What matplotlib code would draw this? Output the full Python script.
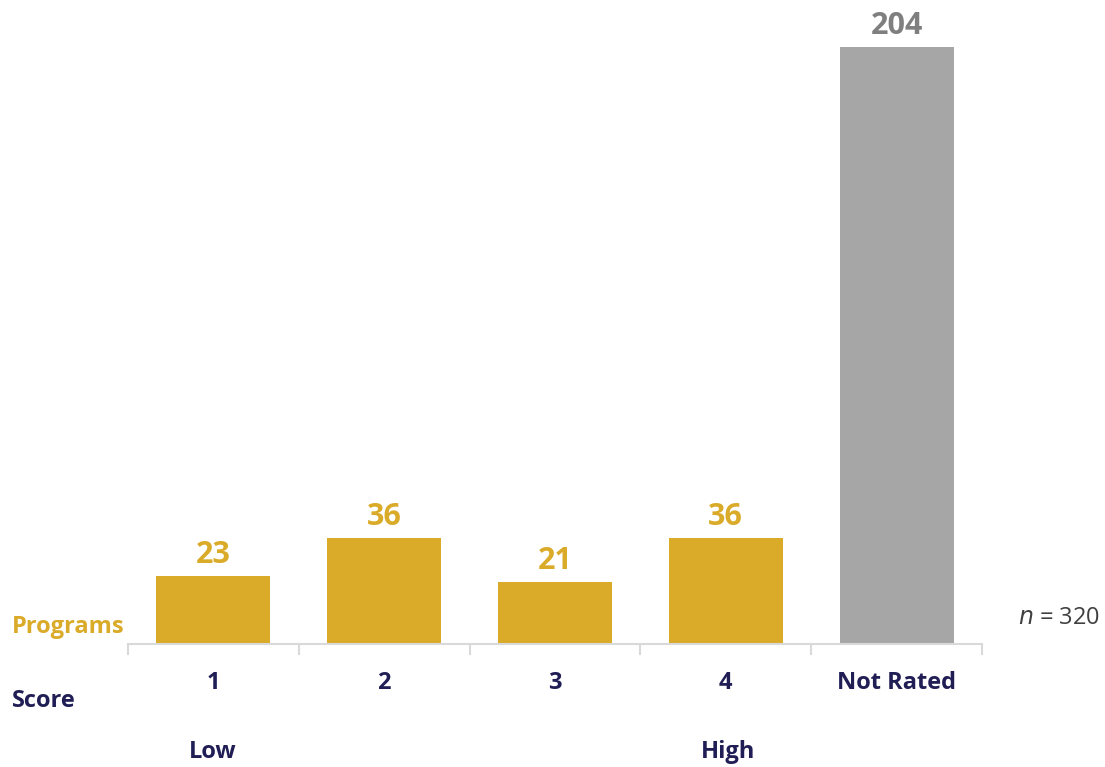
import matplotlib.pyplot as plt

categories = ['1', '2', '3', '4', 'Not Rated']
values = [23, 36, 21, 36, 204]
bar_colors = ['#DAAA29', '#DAAA29', '#DAAA29', '#DAAA29', '#A6A6A6']
label_colors = ['#DAAA29', '#DAAA29', '#DAAA29', '#DAAA29', '#7F7F7F']
navy = '#201E55'

plt.rcParams['font.family'] = ['Open Sans', 'DejaVu Sans']

fig = plt.figure(figsize=(11.05, 7.67), dpi=100)
ax = fig.add_axes([128 / 1105, 1 - 643 / 767, 854 / 1105, 596 / 767])

x = range(len(categories))
bars = ax.bar(x, values, width=0.667, color=bar_colors)
for i, v in enumerate(values):
    ax.text(i, v + 2, str(v), ha='center', va='bottom', fontsize=22,
            fontweight='bold', color=label_colors[i])

ax.set_xlim(-0.5, 4.5)
ax.set_ylim(0, 204)
ax.set_yticks([])
for s in ['top', 'right', 'left']:
    ax.spines[s].set_visible(False)
ax.spines['bottom'].set_color('#D9D9D9')
ax.spines['bottom'].set_linewidth(1.5)
ax.spines['bottom'].set_position(('outward', 1))

# ticks on category boundaries, labels in the middle
ax.set_xticks([i - 0.5 for i in range(len(categories) + 1)])
ax.set_xticklabels([])
ax.tick_params(axis='x', length=8, width=1.5, color='#D9D9D9')
ax.set_xticks(list(x), minor=True)
ax.set_xticklabels(categories, minor=True, fontsize=17, fontweight='bold', color=navy)
ax.tick_params(axis='x', which='minor', length=0, pad=19)

fig.text(12 / 1105, 1 - 627 / 767, 'Programs', ha='left', va='center', fontsize=17,
         fontweight='bold', color='#DAAA29')
fig.text(12 / 1105, 1 - 701 / 767, 'Score', ha='left', va='center', fontsize=17,
         fontweight='bold', color=navy)
fig.text(213 / 1105, 1 - 752 / 767, 'Low', ha='center', va='center', fontsize=17,
         fontweight='bold', color=navy)
fig.text(728 / 1105, 1 - 752 / 767, 'High', ha='center', va='center', fontsize=17,
         fontweight='bold', color=navy)
fig.text(1100 / 1105, 1 - 618 / 767, r'$\it{n}$ = 320', ha='right', va='center',
         fontsize=17, color='#404040')

fig.savefig('out.png', dpi=100)
